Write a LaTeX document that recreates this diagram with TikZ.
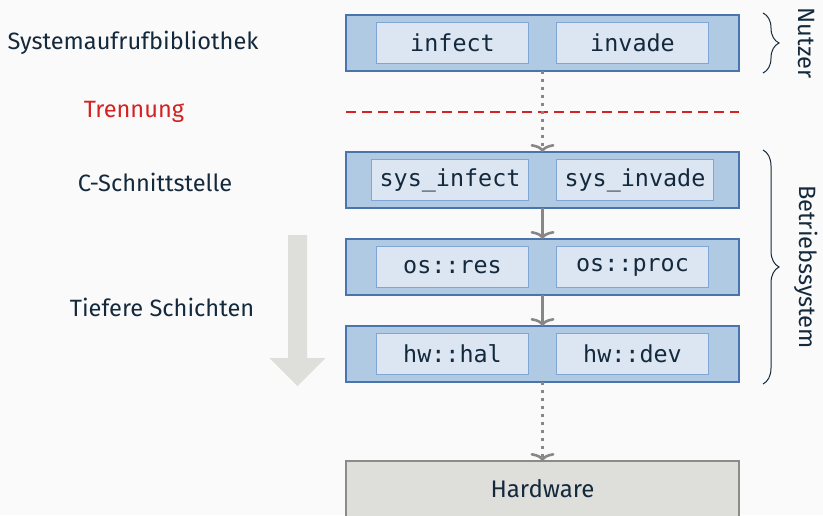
\documentclass[tikz,border=0pt]{standalone}
\usepackage{fontspec}
\setmainfont{Fira Sans}
\setmonofont{DejaVu Sans Mono}
\usepackage{xcolor}
\usepackage{tikz}
\usetikzlibrary{arrows.meta, positioning, calc, decorations.pathreplacing}
\definecolor{pagebg}{HTML}{FAFAFA}
\definecolor{inktext}{HTML}{14293C}
\definecolor{layerfill}{HTML}{B0CAE4}
\definecolor{layerdraw}{HTML}{4A74AE}
\definecolor{callfill}{HTML}{DCE6F2}
\definecolor{calldraw}{HTML}{80A6D6}
\definecolor{hwfill}{HTML}{DEDFDB}
\definecolor{hwdraw}{HTML}{8B8C88}
\definecolor{flowgray}{HTML}{878787}
\definecolor{septred}{HTML}{D42222}
\tikzset{
  layer/.style={
    rectangle,
    minimum width=196.5pt,
    minimum height=28pt,
    outer sep=0pt,
    draw=layerdraw,
    line width=1pt,
    fill=layerfill
  },
  call/.style={
    rectangle,
    minimum width=76pt,
    minimum height=20.5pt,
    inner sep=4pt,
    draw=calldraw,
    line width=0.5pt,
    fill=callfill,
    text=inktext,
    font=\fontsize{11.7}{14}\ttfamily
  },
  hwbox/.style={
    rectangle,
    minimum width=196.5pt,
    minimum height=28pt,
    outer sep=0pt,
    draw=hwdraw,
    line width=1pt,
    fill=hwfill,
    text=inktext,
    font=\fontsize{12}{14}\selectfont
  },
  label/.style={
    text=inktext,
    font=\fontsize{11.8}{14}\selectfont
  },
  flowarrow/.style={
    line width=1.3pt,
    flowgray,
    -{To[length=4pt,width=12pt]}
  },
  callarrow/.style={
    flowarrow,
    line width=1.3pt,
    dash pattern=on 1.3pt off 2.7pt
  },
  sepline/.style={
    septred,
    line width=1pt,
    dash pattern=on 5pt off 3pt
  },
  bigarrow/.style={
    fill=hwfill
  },
  bracket/.style={
    inktext,
    line width=0.5pt,
    decorate,
    decoration={brace, amplitude=8pt}
  }
}

\begin{document}
\begin{tikzpicture}[x=0.5pt, y=-0.5pt]

  \fill[pagebg] (0,0) rectangle (823,515);
  \useasboundingbox (0,0) rectangle (823,515);

  % --- LAYERS ---
  \node (L1) [layer] at (542.5,43) {};
  \node (L2) [layer, below=40.5pt of L1] {};
  \node (L3) [layer, below=15.5pt of L2] {};
  \node (L4) [layer, below=15.5pt of L3] {};
  \node (HW) [hwbox, below=39.5pt of L4] {Hardware};

  \node (L1a) [call, anchor=east, xshift=-6.75pt] at (L1.center) {infect};
  \node (L1b) [call, anchor=west, xshift=6.75pt] at (L1.center) {invade};
  \node (L2a) [call, anchor=east, xshift=-6.75pt] at (L2.center) {sys\_infect};
  \node (L2b) [call, anchor=west, xshift=6.75pt] at (L2.center) {sys\_invade};
  \node (L3a) [call, anchor=east, xshift=-6.75pt] at (L3.center) {os::res};
  \node (L3b) [call, anchor=west, xshift=6.75pt] at (L3.center) {os::proc};
  \node (L4a) [call, anchor=east, xshift=-6.75pt] at (L4.center) {hw::hal};
  \node (L4b) [call, anchor=west, xshift=6.75pt] at (L4.center) {hw::dev};

  % separation line
  \draw[sepline] ($(L1.south west)!0.5!(L2.north west)$) -- ($(L1.south east)!0.5!(L2.north east)$);

  \draw[callarrow] (L1) -- (L2);
  \draw[flowarrow] (L2) -- (L3);
  \draw[flowarrow] (L3) -- (L4);
  \draw[callarrow] (L4) -- (HW);

  % --- LEFT SIDE: LABELS ---
  \node (T1) [label] at (133,43) {Systemaufrufbibliothek};
  \node (T2) [label, text=septred] at (134,112) {Trennung};
  \node (T3) [label] at (155,182) {C-Schnittstelle};
  \node (T4) [label] at (162,307) {Tiefere Schichten};

  \fill[bigarrow] (288,235) -- (307,235) -- (307,358) -- (325.5,358)
    -- (297.5,386) -- (269.5,358) -- (288,358) -- cycle;

  % --- RIGHT SIDE: BRACES ---
  \coordinate (N1) at ($(L1.north east)+(24,-2)$);
  \coordinate (N2) at ($(L1.south east)+(24,2)$);
  \coordinate (B1) at ($(L2.north east)+(24,-2)$);
  \coordinate (B2) at ($(L4.south east)+(24,2)$);
  \draw[bracket] (N1) -- (N2);
  \draw[bracket] (B1) -- (B2);
  \node (U) [label, rotate=-90] at ($(N1)!0.5!(N2)+(43,0)$) {Nutzer};
  \node (S) [label, rotate=-90] at ($(B1)!0.5!(B2)+(43,0)$) {Betriebssystem};

\end{tikzpicture}
\end{document}
